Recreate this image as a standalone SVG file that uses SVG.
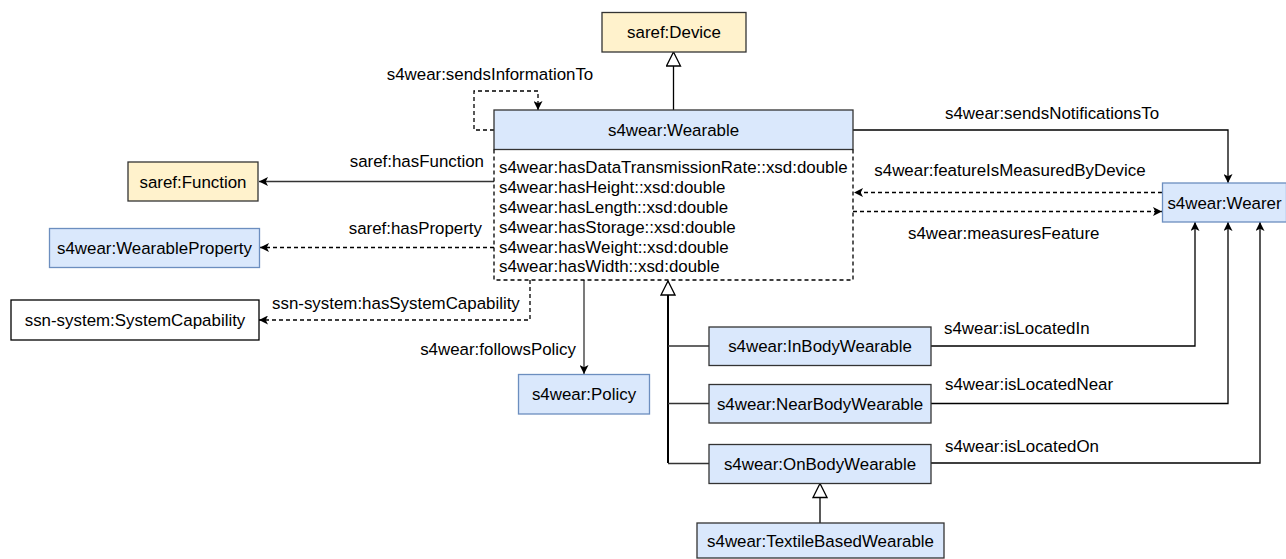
<svg xmlns="http://www.w3.org/2000/svg" width="1286" height="559" viewBox="0 0 1286 559">
<style>
text{font-family:"Liberation Sans",Arial,Helvetica,sans-serif;font-size:16.9px;fill:#000}
.c{text-anchor:middle}
.e{text-anchor:end}
.yel{fill:#fff2cc;stroke:#333;stroke-width:1.3}
.blu{fill:#dae8fc;stroke:#6c8ebf;stroke-width:1.3}
.bld{fill:#dae8fc;stroke:#333;stroke-width:1.3}
.wht{fill:#fff;stroke:#000;stroke-width:1.3}
.ln{fill:none;stroke:#000;stroke-width:1.3}
.gl{fill:none;stroke:#333;stroke-width:1.3}
.ds{fill:none;stroke:#000;stroke-width:1.3;stroke-dasharray:4 3}
.arr{marker-end:url(#arr)}
.inh{marker-end:url(#tri)}
</style>
<defs>
<marker id="arr" viewBox="0 0 10 10" refX="10" refY="5" markerWidth="9" markerHeight="9" markerUnits="userSpaceOnUse" orient="auto">
<path d="M0,0 L10,5 L0,10 L2.5,5 z" fill="#000"/>
</marker>
<marker id="tri" viewBox="-1 -1 16 16" refX="14" refY="7" markerWidth="16" markerHeight="16" markerUnits="userSpaceOnUse" orient="auto">
<path d="M0,0 L14,7 L0,14 z" fill="#fff" stroke="#000" stroke-width="1.3"/>
</marker>
</defs>
<g id="connectors">
<path class="ln inh" d="M673.5,110 V52"/>
<path class="ds arr" d="M494,130 H474 V91 H538 V110"/>
<path class="ln arr" d="M853,130 H1228 V183"/>
<path class="gl arr" d="M494,181.5 H259"/>
<path class="ds arr" d="M494,247.5 H260"/>
<path class="ds arr" d="M530,280 V320 H259"/>
<path class="gl arr" d="M584,280 V374"/>
<path class="ds arr" d="M1162,192.5 H854"/>
<path class="ds arr" d="M853,211.5 H1162"/>
<path class="ln inh" d="M668,463 V281" style="stroke-width:2"/>
<path class="gl" d="M668,346 H709 M668,403.5 H709 M668,463.5 H709"/>
<path class="ln arr" d="M931,346 H1195 V222"/>
<path class="ln arr" d="M931,403.5 H1228 V222"/>
<path class="ln arr" d="M931,463 H1260 V222"/>
<path class="ln inh" d="M820,523 V483.5"/>
<text x="490" y="80" class="c">s4wear:sendsInformationTo</text>
<text x="1052" y="118.5" class="c">s4wear:sendsNotificationsTo</text>
<text x="1010" y="176" class="c">s4wear:featureIsMeasuredByDevice</text>
<text x="908" y="238.5">s4wear:measuresFeature</text>
<text x="484" y="166.5" class="e">saref:hasFunction</text>
<text x="482" y="233.5" class="e">saref:hasProperty</text>
<text x="272" y="308.5">ssn-system:hasSystemCapability</text>
<text x="576" y="355" class="e">s4wear:followsPolicy</text>
<text x="944" y="334">s4wear:isLocatedIn</text>
<text x="945" y="390">s4wear:isLocatedNear</text>
<text x="945" y="452">s4wear:isLocatedOn</text>
</g>
<g id="device">
<rect class="yel" x="602" y="12.5" width="144" height="39.5"/>
<text x="674" y="38" class="c">saref:Device</text>
</g>
<g id="wearable">
<rect class="bld" x="494" y="110" width="359" height="39.5"/>
<text x="673.5" y="136" class="c">s4wear:Wearable</text>
<path class="ds" d="M494,149.5 V280 H853 V149.5"/>
<text x="499" y="172.5">s4wear:hasDataTransmissionRate::xsd:double</text>
<text x="499" y="192.5">s4wear:hasHeight::xsd:double</text>
<text x="499" y="212.5">s4wear:hasLength::xsd:double</text>
<text x="499" y="232.5">s4wear:hasStorage::xsd:double</text>
<text x="499" y="252.5">s4wear:hasWeight::xsd:double</text>
<text x="499" y="272">s4wear:hasWidth::xsd:double</text>
</g>
<g id="function">
<rect class="yel" x="128" y="162" width="130" height="39"/>
<text x="193" y="187.5" class="c">saref:Function</text>
</g>
<g id="wearableProperty">
<rect class="blu" x="49.5" y="228.5" width="210" height="39"/>
<text x="154.5" y="254" class="c">s4wear:WearableProperty</text>
</g>
<g id="systemCapability">
<rect class="wht" x="11" y="300" width="248" height="40"/>
<text x="135" y="326" class="c">ssn-system:SystemCapability</text>
</g>
<g id="policy">
<rect class="blu" x="518.5" y="374.5" width="131" height="39.5"/>
<text x="584" y="400" class="c">s4wear:Policy</text>
</g>
<g id="wearer">
<rect class="blu" x="1162.5" y="183" width="124" height="39"/>
<text x="1224.5" y="208.5" class="c">s4wear:Wearer</text>
</g>
<g id="inBody">
<rect class="bld" x="709" y="327" width="222" height="38.5"/>
<text x="820" y="352" class="c">s4wear:InBodyWearable</text>
</g>
<g id="nearBody">
<rect class="bld" x="709" y="384.5" width="222" height="38.5"/>
<text x="820" y="409.5" class="c">s4wear:NearBodyWearable</text>
</g>
<g id="onBody">
<rect class="bld" x="709" y="444.5" width="222" height="39"/>
<text x="820" y="469.5" class="c">s4wear:OnBodyWearable</text>
</g>
<g id="textileBased">
<rect class="bld" x="697" y="523" width="247" height="35"/>
<text x="820.5" y="547" class="c">s4wear:TextileBasedWearable</text>
</g>
</svg>
